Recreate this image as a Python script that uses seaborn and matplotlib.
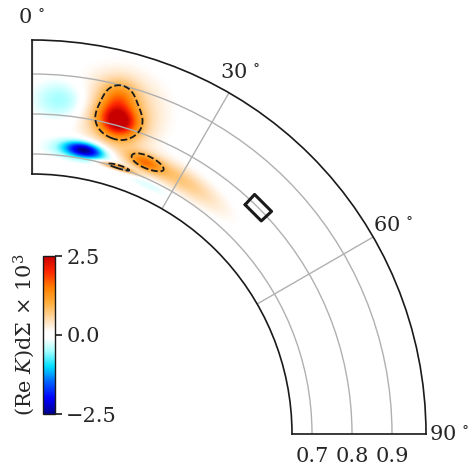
import numpy as np
import matplotlib
matplotlib.use("Agg")
import matplotlib.pyplot as plt
from matplotlib.colors import LinearSegmentedColormap
import seaborn as sns

# Blobs: colatitude (deg), radius (r/R), amplitude (x 1e3), widths
blob_theta = [15.5, 14.5, 15.0, 22.6, 29.0, 10.5, 10.0, 5.3, 17.7, 25.0]
blob_r = [0.812, 0.870, 0.830, 0.737, 0.738, 0.723, 0.722, 0.839, 0.702, 0.690]
blob_amp = [1.95, 0.8, 0.9, 1.0, 0.75, -2.0, -0.7, -0.6, 1.3, -0.3]
blob_sig_theta = [2.4, 2.0, 4.8, 2.4, 7.5, 2.6, 4.5, 3.3, 3.0, 4.0]
blob_sig_r = [0.026, 0.030, 0.065, 0.013, 0.022, 0.013, 0.018, 0.033, 0.005, 0.010]

theta_ticks = [0, 30, 60, 90]
r_ticks = [0.7, 0.8, 0.9]
r_min, r_max = 0.65, 0.985
cbar_ticks = [-2.5, 0.0, 2.5]
contour_levels = [1.0]

# box marking the target location
box_theta = [42.9, 47.1]
box_r = [0.7825, 0.8175]

sns.set_theme(style="white")
plt.rcParams["font.family"] = ["DejaVu Serif"]
plt.rcParams["mathtext.fontset"] = "dejavuserif"
plt.rcParams.update({"font.size": 15, "xtick.labelsize": 15,
                     "ytick.labelsize": 15, "axes.labelsize": 15})

cmap = LinearSegmentedColormap.from_list("bwo", [
    (0.00, "#00008f"), (0.10, "#0000ff"), (0.20, "#0060ff"), (0.30, "#00e0ff"),
    (0.40, "#a8ffff"), (0.48, "#ffffff"), (0.52, "#ffffff"), (0.60, "#ffdcb0"),
    (0.70, "#ffb040"), (0.80, "#ff8000"), (0.90, "#ff2800"), (1.00, "#c80000")])

th = np.linspace(0, 90, 451)
rr = np.linspace(r_min, r_max, 300)
TH, RR = np.meshgrid(th, rr)
field = np.zeros_like(TH)
for t0, r0, a, st, sr in zip(blob_theta, blob_r, blob_amp, blob_sig_theta, blob_sig_r):
    field += a * np.exp(-0.5 * ((TH - t0) / st) ** 2 - 0.5 * ((RR - r0) / sr) ** 2)

fig = plt.figure(figsize=(4.75, 4.68), dpi=100)
ax = fig.add_axes([32 / 475, 34 / 468, 394 / 475, 394 / 468], projection="polar")
ax.set_theta_zero_location("N")
ax.set_theta_direction(-1)
ax.set_thetamin(0)
ax.set_thetamax(90)
ax.set_ylim(r_min, r_max)
ax.set_rorigin(0)

pcm = ax.pcolormesh(np.deg2rad(TH), RR, field, cmap=cmap, vmin=-2.5, vmax=2.5,
                    shading="gouraud", zorder=0)
ax.contour(np.deg2rad(TH), RR, field, levels=contour_levels, colors="k",
           linestyles="--", linewidths=1.3)

bt = [box_theta[0], box_theta[1], box_theta[1], box_theta[0], box_theta[0]]
br = [box_r[0], box_r[0], box_r[1], box_r[1], box_r[0]]
ax.plot(np.deg2rad(bt), br, color="k", lw=2.2)

ax.set_xticks(np.deg2rad(theta_ticks))
ax.set_xticklabels([f"{t}$\\,^\\circ$" for t in theta_ticks])
ax.set_yticks(r_ticks)
ax.set_yticklabels([f"{v:.1f}" for v in r_ticks])
ax.tick_params(axis="y", labelleft=False, labelright=True)
ax.grid(True, color="#b0b0b0", lw=1.0)
for sp in ax.spines.values():
    sp.set_edgecolor("k")
    sp.set_linewidth(1.2)

cax = fig.add_axes([43 / 475, (468 - 414) / 468, 11.5 / 475, 158 / 468])
cb = fig.colorbar(pcm, cax=cax, ticks=cbar_ticks)
cb.outline.set_edgecolor("k")
cb.outline.set_linewidth(1.0)
cax.tick_params(axis="y", length=5, width=1.2, color="k", direction="out", right=True)
cax.set_ylabel(r"(Re $K$)d$\Sigma$ $\times$ $10^3$")
cax.yaxis.set_label_position("left")

fig.savefig("out.png", dpi=100)
